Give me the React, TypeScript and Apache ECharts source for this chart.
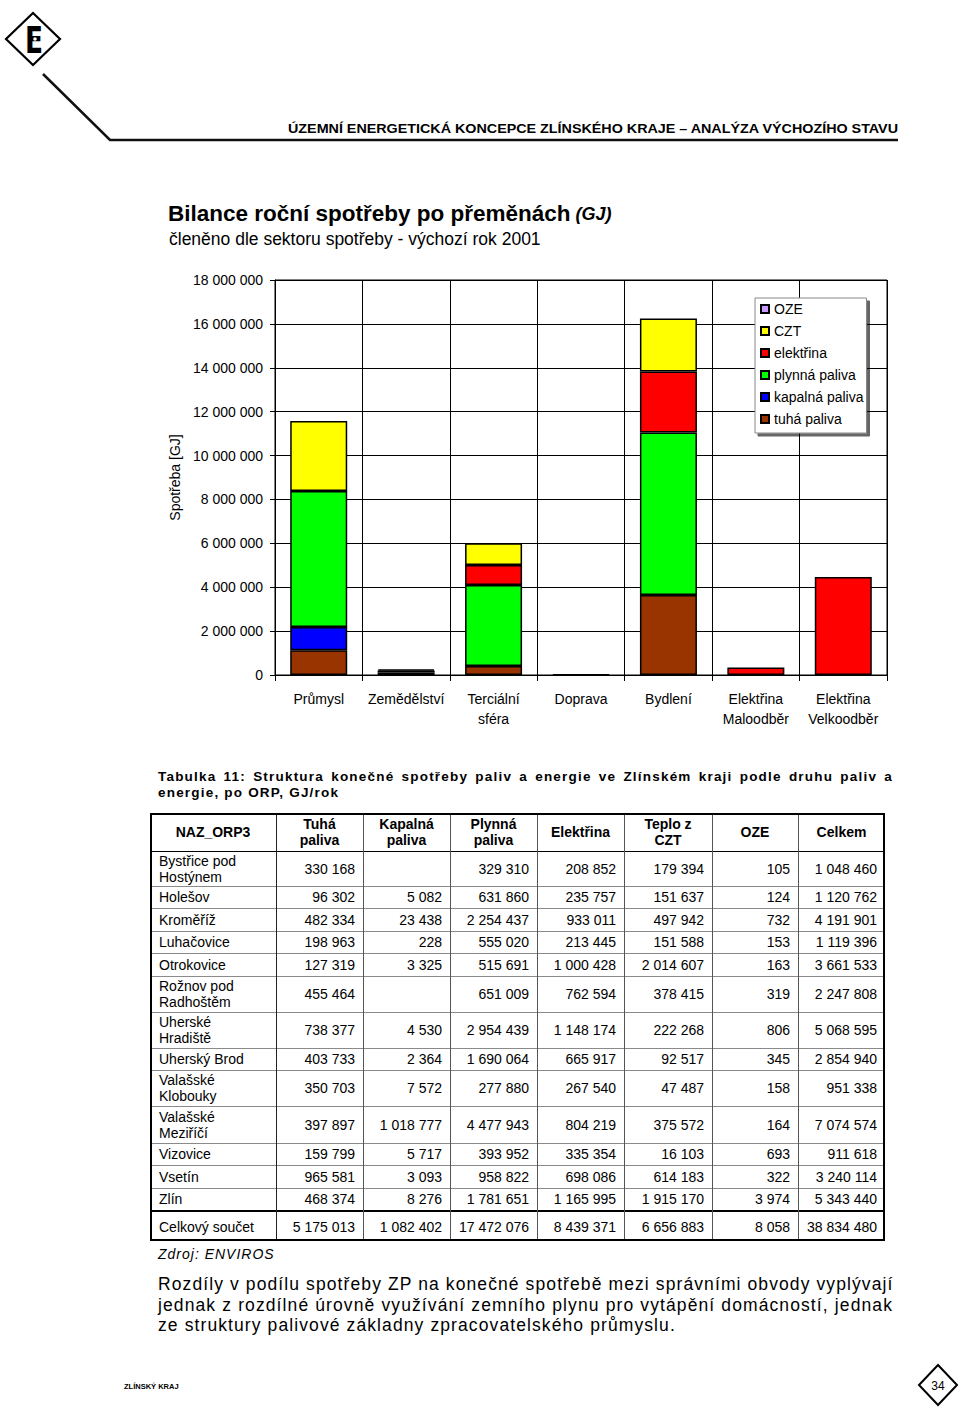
import React, { useEffect, useRef } from 'react';
import * as echarts from 'echarts';

// ---------- chart data ----------
const categories = ['Průmysl', 'Zemědělství', 'Terciální\nsféra', 'Doprava', 'Bydlení', 'Elektřina\nMaloodběr', 'Elektřina\nVelkoodběr'];
const tuhaPaliva = [1130000, 110000, 410000, 30000, 3650000, null, null];
const kapalnaPaliva = [1060000, 90000, null, null, null, null, null];
const plynnaPaliva = [6200000, 60000, 3690000, null, 7400000, null, null];
const elektrinaVals = [null, null, 910000, null, 2780000, 340000, 4470000];
const cztVals = [3180000, null, 990000, null, 2410000, null, null];
const ozeVals = [null, null, null, null, null, null, null];
const legendOrder = ['OZE', 'CZT', 'elektřina', 'plynná paliva', 'kapalná paliva', 'tuhá paliva'];

// ---------- table data ----------
const tableHeaders = ['NAZ_ORP3', 'Tuhá\npaliva', 'Kapalná\npaliva', 'Plynná\npaliva', 'Elektřina', 'Teplo z\nCZT', 'OZE', 'Celkem'];
const rowNames = ['Bystřice pod\nHostýnem', 'Holešov', 'Kroměříž', 'Luhačovice', 'Otrokovice', 'Rožnov pod\nRadhoštěm', 'Uherské\nHradiště', 'Uherský Brod', 'Valašské\nKlobouky', 'Valašské\nMeziříčí', 'Vizovice', 'Vsetín', 'Zlín'];
const colTuha = [330168, 96302, 482334, 198963, 127319, 455464, 738377, 403733, 350703, 397897, 159799, 965581, 468374];
const colKapalna = [null, 5082, 23438, 228, 3325, null, 4530, 2364, 7572, 1018777, 5717, 3093, 8276];
const colPlynna = [329310, 631860, 2254437, 555020, 515691, 651009, 2954439, 1690064, 277880, 4477943, 393952, 958822, 1781651];
const colElektrina = [208852, 235757, 933011, 213445, 1000428, 762594, 1148174, 665917, 267540, 804219, 335354, 698086, 1165995];
const colCzt = [179394, 151637, 497942, 151588, 2014607, 378415, 222268, 92517, 47487, 375572, 16103, 614183, 1915170];
const colOze = [105, 124, 732, 153, 163, 319, 806, 345, 158, 164, 693, 322, 3974];
const colCelkem = [1048460, 1120762, 4191901, 1119396, 3661533, 2247808, 5068595, 2854940, 951338, 7074574, 911618, 3240114, 5343440];
const totalLabel = 'Celkový součet';
const totalRow = [5175013, 1082402, 17472076, 8439371, 6656883, 8058, 38834480];

const fmt = (v: number | null) => (v === null || v === undefined ? '' : String(v).replace(/\B(?=(\d{3})+(?!\d))/g, ' '));

const FONT = "'Liberation Sans', Arial, sans-serif";

function Chart() {
  const ref = useRef<HTMLDivElement>(null);
  useEffect(() => {
    const chart = echarts.init(ref.current!, null, { renderer: 'svg' });
    const mk = (name: string, data: (number | null)[], color: string) => ({
      name,
      type: 'bar',
      stack: 'total',
      data,
      barWidth: 57,
      itemStyle: { color, borderColor: '#000', borderWidth: 1.5 },
      emphasis: { disabled: true },
    });
    chart.setOption({
      animation: false,
      backgroundColor: '#fff',
      textStyle: { fontFamily: FONT },
      title: [
        {
          text: '{b|Bilance roční spotřeby po přeměnách} {i|(GJ)}',
          left: 13,
          top: 7,
          textStyle: {
            rich: {
              b: { fontSize: 22.5, fontWeight: 'bold', color: '#000', fontFamily: FONT },
              i: { fontSize: 18, fontStyle: 'italic', color: '#000', fontFamily: FONT },
            },
          },
        },
        {
          text: 'členěno dle sektoru spotřeby - výchozí rok 2001',
          left: 14,
          top: 35,
          textStyle: { fontSize: 17.5, fontWeight: 'normal', color: '#000', fontFamily: FONT },
        },
      ],
      legend: {
        data: legendOrder,
        orient: 'vertical',
        left: 605,
        top: 108,
        itemWidth: 8,
        itemHeight: 8,
        itemGap: 8,
        icon: 'rect',
        padding: [4, 3, 7, 5],
        backgroundColor: '#fff',
        borderColor: '#888',
        borderWidth: 1,
        shadowColor: 'rgba(0,0,0,0.6)',
        shadowBlur: 0,
        shadowOffsetX: 3,
        shadowOffsetY: 3,
        selectedMode: false,
        textStyle: { fontSize: 14, color: '#000', fontFamily: FONT },
      },
      grid: { left: 125, top: 90, width: 612, height: 395, show: true, borderColor: '#000', borderWidth: 1, backgroundColor: '#fff' },
      xAxis: {
        type: 'category',
        data: categories,
        axisLine: { lineStyle: { color: '#000', width: 1 } },
        axisTick: { show: true, length: 6, lineStyle: { color: '#000' } },
        splitLine: { show: true, lineStyle: { color: '#000', width: 1 } },
        axisLabel: { color: '#000', fontSize: 14, fontFamily: FONT, margin: 14, lineHeight: 20, interval: 0 },
      },
      yAxis: {
        type: 'value',
        min: 0,
        max: 18000000,
        interval: 2000000,
        name: 'Spotřeba [GJ]',
        nameLocation: 'middle',
        nameGap: 92,
        nameTextStyle: { fontSize: 14, color: '#000', fontFamily: FONT },
        axisLine: { show: true, lineStyle: { color: '#000' } },
        axisTick: { show: true, length: 5, lineStyle: { color: '#000' } },
        splitLine: { show: true, lineStyle: { color: '#000', width: 1 } },
        axisLabel: { formatter: (v: number) => fmt(v), color: '#000', fontSize: 14, fontFamily: FONT, margin: 12 },
      },
      series: [
        mk('tuhá paliva', tuhaPaliva, '#993300'),
        mk('kapalná paliva', kapalnaPaliva, '#0000FF'),
        mk('plynná paliva', plynnaPaliva, '#00FF00'),
        mk('elektřina', elektrinaVals, '#FF0000'),
        mk('CZT', cztVals, '#FFFF00'),
        mk('OZE', ozeVals, '#CC99FF'),
      ],
    });
    return () => chart.dispose();
  }, []);
  return <div ref={ref} style={{ position: 'absolute', left: 150, top: 190, width: 750, height: 550 }} />;
}

const colX = [150, 276, 363, 450, 537, 624, 712, 798, 885];
const rowY = [813, 851, 886, 908, 931, 953, 976, 1012, 1048, 1070, 1106, 1143, 1165, 1188, 1210, 1241];

function Cell({ x0, x1, y0, y1, text, align, bold }: any) {
  return (
    <div
      style={{
        position: 'absolute',
        left: x0,
        top: y0,
        width: x1 - x0,
        height: y1 - y0,
        display: 'flex',
        alignItems: 'center',
        justifyContent: align === 'left' ? 'flex-start' : align === 'right' ? 'flex-end' : 'center',
        textAlign: align === 'center' ? 'center' : align,
        boxSizing: 'border-box',
        padding: align === 'left' ? '0 0 0 9px' : align === 'right' ? '0 8px 0 0' : 0,
        fontFamily: FONT,
        fontSize: 14,
        fontWeight: bold ? 'bold' : 'normal',
        lineHeight: '16px',
        whiteSpace: 'pre',
        color: '#000',
      }}
    >
      {text}
    </div>
  );
}

function Table() {
  const cells: any[] = [];
  tableHeaders.forEach((h, i) => {
    cells.push(<Cell key={'h' + i} x0={colX[i]} x1={colX[i + 1]} y0={rowY[0]} y1={rowY[1]} text={h} align="center" bold />);
  });
  const cols = [colTuha, colKapalna, colPlynna, colElektrina, colCzt, colOze, colCelkem];
  rowNames.forEach((name, r) => {
    const y0 = rowY[r + 1];
    const y1 = rowY[r + 2];
    cells.push(<Cell key={'n' + r} x0={colX[0]} x1={colX[1]} y0={y0} y1={y1} text={name} align="left" />);
    cols.forEach((c, ci) => {
      cells.push(<Cell key={'c' + r + '_' + ci} x0={colX[ci + 1]} x1={colX[ci + 2]} y0={y0} y1={y1} text={fmt(c[r])} align="right" />);
    });
  });
  const ty0 = rowY[rowY.length - 2] + 2;
  const ty1 = rowY[rowY.length - 1];
  cells.push(<Cell key="tn" x0={colX[0]} x1={colX[1]} y0={ty0} y1={ty1} text={totalLabel} align="left" />);
  totalRow.forEach((v, ci) => {
    cells.push(<Cell key={'t' + ci} x0={colX[ci + 1]} x1={colX[ci + 2]} y0={ty0} y1={ty1} text={fmt(v)} align="right" />);
  });
  const lines: any[] = [];
  for (let i = 1; i < rowY.length - 1; i++) {
    const isHeader = i === 1;
    const isTotal = i === rowY.length - 2;
    lines.push(
      <line
        key={'hl' + i}
        x1={colX[0]}
        x2={colX[colX.length - 1]}
        y1={rowY[i] + (isTotal ? 1 : 0.5)}
        y2={rowY[i] + (isTotal ? 1 : 0.5)}
        stroke={isHeader || isTotal ? '#000' : '#8a8a8a'}
        strokeWidth={isTotal ? 2 : 1}
      />
    );
  }
  for (let i = 1; i < colX.length - 1; i++) {
    lines.push(<line key={'vl' + i} x1={colX[i] + 0.5} x2={colX[i] + 0.5} y1={rowY[0]} y2={rowY[rowY.length - 1]} stroke={i === 1 ? '#222' : '#555'} strokeWidth={1} />);
  }
  return (
    <>
      <svg style={{ position: 'absolute', left: 0, top: 0 }} width={960} height={1407}>
        {lines}
        <rect x={colX[0] + 1} y={rowY[0] + 1} width={colX[colX.length - 1] - colX[0] - 2} height={rowY[rowY.length - 1] - rowY[0] - 2} fill="none" stroke="#000" strokeWidth={2} />
      </svg>
      {cells}
    </>
  );
}

const justLine = (text: string, top: number, opts: any, last = false) => (
  <div
    style={{
      position: 'absolute',
      left: 158,
      top,
      width: 735,
      whiteSpace: 'nowrap',
      textAlign: last ? 'left' : 'justify',
      textAlignLast: last ? 'left' : 'justify',
      fontFamily: FONT,
      color: '#000',
      ...opts,
    }}
  >
    {text}
  </div>
);

export default function App() {
  return (
    <div style={{ position: 'absolute', left: 0, top: 0, width: 960, height: 1407, background: '#fff', overflow: 'hidden' }}>
      {/* header */}
      <svg style={{ position: 'absolute', left: 0, top: 0 }} width={960} height={160}>
        <polygon points="33,13 60,39 33,65 6,39" fill="#fff" stroke="#000" strokeWidth={2.2} />
        <text x={25} y={53} fontFamily="'DejaVu Sans', sans-serif" fontWeight="bold" fontSize={38} textLength={18} lengthAdjust="spacingAndGlyphs" fill="#000">E</text>
        <circle cx={35} cy={39} r={1.8} fill="#fff" />
        <polyline points="43,74 110,140 898,140" fill="none" stroke="#111" strokeWidth={2.5} />
        <text x={288} y={133} fontFamily={FONT} fontWeight="bold" fontSize={12.5} textLength={610} lengthAdjust="spacingAndGlyphs" fill="#000">
          ÚZEMNÍ ENERGETICKÁ KONCEPCE ZLÍNSKÉHO KRAJE – ANALÝZA VÝCHOZÍHO STAVU
        </text>
      </svg>

      <Chart />

      {/* table caption */}
      {justLine('Tabulka 11: Struktura konečné spotřeby paliv a energie ve Zlínském kraji podle druhu paliv a', 769, { fontSize: 13.5, fontWeight: 'bold', letterSpacing: 1.2, lineHeight: '16px' })}
      {justLine('energie, po ORP, GJ/rok', 785, { fontSize: 13.5, fontWeight: 'bold', letterSpacing: 1.2, lineHeight: '16px' }, true)}

      <Table />

      {justLine('Zdroj: ENVIROS', 1246, { fontSize: 14, fontStyle: 'italic', letterSpacing: 1, lineHeight: '16px' }, true)}

      {justLine('Rozdíly v podílu spotřeby ZP na konečné spotřebě mezi správními obvody vyplývají', 1274, { fontSize: 17.5, letterSpacing: 1.1, lineHeight: '20.5px' })}
      {justLine('jednak z rozdílné úrovně využívání zemního plynu pro vytápění domácností, jednak', 1294.5, { fontSize: 17.5, letterSpacing: 1.1, lineHeight: '20.5px' })}
      {justLine('ze struktury palivové základny zpracovatelského průmyslu.', 1315, { fontSize: 17.5, letterSpacing: 1.1, lineHeight: '20.5px' }, true)}

      {/* footer */}
      <svg style={{ position: 'absolute', left: 0, top: 1350 }} width={960} height={57}>
        <text x={124} y={38.5} fontFamily={FONT} fontWeight="bold" fontSize={7.5} fill="#000">ZLÍNSKÝ KRAJ</text>
        <polygon points="938,15 957,35 938,55 919,35" fill="#fff" stroke="#000" strokeWidth={2} />
        <text x={938} y={39.5} textAnchor="middle" fontFamily={FONT} fontSize={12} fill="#000">34</text>
      </svg>
    </div>
  );
}
